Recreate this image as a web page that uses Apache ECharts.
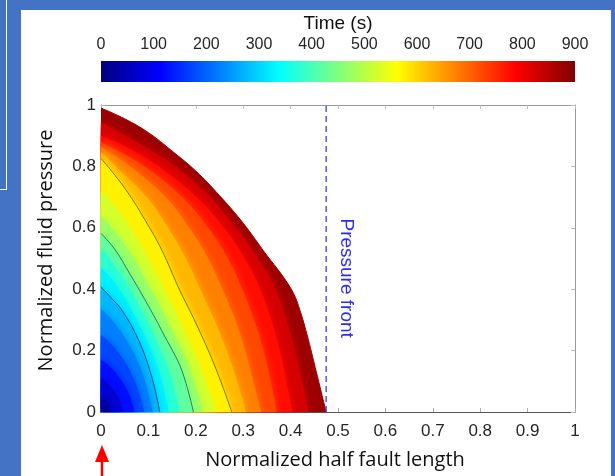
<!DOCTYPE html>
<html>
<head>
<meta charset="utf-8">
<script src="https://cdn.jsdelivr.net/npm/echarts/dist/echarts.min.js"></script>
<style>
  html, body { margin: 0; padding: 0; background: #4472c4; }
  #wrap { position: relative; width: 615px; height: 476px; overflow: hidden; }
  .panel { position: absolute; left: 21px; top: 10px; width: 590px; height: 466px; background: #fff; }
  .edge-v { position: absolute; left: 6px; top: 0; width: 1px; height: 189px; background: #fff; }
  .edge-h { position: absolute; left: 0; top: 189px; width: 7px; height: 1px; background: #fff; }
  #chart { position: absolute; left: 0; top: 0; width: 615px; height: 476px; }
</style>
</head>
<body>
<div id="wrap">
  <div class="panel"></div>
  <div class="edge-v"></div>
  <div class="edge-h"></div>
  <div id="chart"></div>
</div>
<script>
// Pressure profiles p(x) along the half fault, one per time step (s).
// Each profile: [normalized half fault length, normalized fluid pressure].
const t050 = [[0,0.05],[0.005,0.0435],[0.01,0.0345],[0.014,0.025],[0.017,0.015],[0.02,0]];
const t100 = [[0,0.11],[0.011,0.096],[0.0225,0.076],[0.0315,0.055],[0.038,0.033],[0.045,0]];
const t150 = [[0,0.17],[0.0175,0.148],[0.035,0.117],[0.049,0.085],[0.0595,0.051],[0.07,0]];
const t200 = [[0,0.25],[0.0225,0.2175],[0.045,0.1725],[0.063,0.125],[0.0765,0.075],[0.09,0]];
const t250 = [[0,0.335],[0.027,0.291],[0.054,0.231],[0.0756,0.1675],[0.0918,0.1005],[0.108,0]];
const t300 = [[0,0.408],[0.02,0.374],[0.044,0.332],[0.079,0.235],[0.107,0.115],[0.124,0]];
const t350 = [[0,0.47],[0.0355,0.404],[0.071,0.31],[0.0994,0.221],[0.1207,0.134],[0.142,0]];
const t400 = [[0,0.53],[0.041,0.448],[0.0825,0.337],[0.1155,0.233],[0.14,0.143],[0.165,0]];
const t450 = [[0,0.582],[0.03,0.528],[0.06,0.452],[0.093,0.365],[0.135,0.245],[0.17,0.137],[0.195,0]];
const t500 = [[0,0.64],[0.054,0.534],[0.1075,0.39],[0.1505,0.262],[0.183,0.154],[0.215,0]];
const t550 = [[0,0.72],[0.06,0.598],[0.12,0.432],[0.168,0.281],[0.204,0.158],[0.24,0]];
const t600 = [[0,0.826],[0.03,0.77],[0.06,0.707],[0.093,0.625],[0.128,0.528],[0.165,0.40],[0.2,0.29],[0.24,0.15],[0.276,0]];
const t650 = [[0,0.845],[0.03,0.8],[0.095,0.7],[0.14,0.6],[0.178,0.5],[0.208,0.4],[0.238,0.3],[0.264,0.2],[0.286,0.1],[0.305,0]];
const t700 = [[0,0.862],[0.06,0.8],[0.135,0.7],[0.185,0.6],[0.225,0.5],[0.255,0.4],[0.282,0.3],[0.303,0.2],[0.32,0.1],[0.337,0]];
const t750 = [[0,0.878],[0.09,0.8],[0.17,0.7],[0.225,0.6],[0.267,0.5],[0.297,0.4],[0.322,0.3],[0.342,0.2],[0.357,0.1],[0.37,0]];
const t800 = [[0,0.898],[0.05,0.865],[0.12,0.8],[0.2,0.7],[0.258,0.6],[0.302,0.5],[0.335,0.4],[0.358,0.3],[0.376,0.2],[0.39,0.1],[0.403,0]];
const t850 = [[0,0.942],[0.05,0.9],[0.105,0.85],[0.155,0.8],[0.228,0.7],[0.283,0.6],[0.33,0.5],[0.367,0.4],[0.39,0.3],[0.408,0.2],[0.423,0.1],[0.437,0]];
const t900 = [[0,0.99],[0.05,0.955],[0.1,0.91],[0.15,0.85],[0.2,0.785],[0.25,0.705],[0.3,0.615],[0.35,0.51],[0.38,0.45],[0.406,0.387],[0.42,0.33],[0.434,0.256],[0.455,0.126],[0.475,0]];

const times = [50, 100, 150, 200, 250, 300, 350, 400, 450, 500, 550, 600, 650, 700, 750, 800, 850, 900];
const profiles = [t050, t100, t150, t200, t250, t300, t350, t400, t450, t500, t550, t600, t650, t700, t750, t800, t850, t900];

// Profiles traced in black
const outlinedTimes = [300, 450, 600];

// Position of the pressure front
const frontX = 0.475;

// Axis ranges and tick spacing
const xRange = { min: 0, max: 1, interval: 0.1 };
const yRange = { min: 0, max: 1, interval: 0.2 };
const timeRange = { min: 0, max: 900, interval: 100 };

// MATLAB "jet" colour map
function jet(v) {
  const c = x => Math.max(0, Math.min(1, x));
  const r = c(1.5 - Math.abs(4 * v - 3));
  const g = c(1.5 - Math.abs(4 * v - 2));
  const b = c(1.5 - Math.abs(4 * v - 1));
  return 'rgb(' + Math.round(r * 255) + ',' + Math.round(g * 255) + ',' + Math.round(b * 255) + ')';
}

const tickFont = '"Liberation Sans", Arial, Helvetica, sans-serif';
const titleFont = '"Open Sans", "Liberation Sans", sans-serif';
const textColor = '#262626';

const chart = echarts.init(document.getElementById('chart'), null, { renderer: 'canvas' });

const series = [];

// Filled profiles: latest (largest) first, earlier ones painted over it.
// Each visible band takes the colour of the middle of its time step; a soft
// shadow of the same colour blends it into the next band outward.
for (let i = times.length - 1; i >= 0; i--) {
  const prev = i > 0 ? times[i - 1] : timeRange.min;
  const tMid = (times[i] + prev) / 2;
  const col = jet((tMid - timeRange.min) / (timeRange.max - timeRange.min));
  const outermost = i === times.length - 1;
  series.push({
    type: 'line',
    xAxisIndex: 0, yAxisIndex: 0,
    data: profiles[i],
    showSymbol: false,
    smooth: 0.4,
    clip: true,
    lineStyle: { color: col, width: 1 },
    areaStyle: {
      color: col, opacity: 1,
      shadowColor: outermost ? 'transparent' : col,
      shadowBlur: outermost ? 0 : 9
    },
    silent: true,
    z: 2
  });
}

// Black outlines of selected profiles
outlinedTimes.forEach(t => {
  series.push({
    type: 'line',
    xAxisIndex: 0, yAxisIndex: 0,
    data: profiles[times.indexOf(t)],
    showSymbol: false,
    smooth: 0.4,
    lineStyle: { color: '#222', width: 0.8, opacity: 0.75 },
    silent: true,
    z: 3
  });
});

// Pressure front
series.push({
  type: 'line',
  xAxisIndex: 0, yAxisIndex: 0,
  data: [[frontX, yRange.min], [frontX, yRange.max]],
  showSymbol: false,
  lineStyle: { color: '#3a3af5', width: 1.3, type: [6, 4] },
  silent: true,
  z: 4
});

// Colour bar
const jetStops = [0, 0.125, 0.375, 0.625, 0.875, 1].map(v => ({ offset: v, color: jet(v) }));
series.push({
  type: 'bar',
  xAxisIndex: 2, yAxisIndex: 2,
  data: [timeRange.max],
  barWidth: '100%',
  itemStyle: { color: new echarts.graphic.LinearGradient(0, 0, 1, 0, jetStops) },
  silent: true
});

const option = {
  animation: false,
  backgroundColor: 'transparent',
  grid: [
    { left: 101, top: 105, width: 474, height: 307, containLabel: false, outerBoundsMode: 'none' },
    { left: 101, top: 61, width: 474, height: 21, containLabel: false, outerBoundsMode: 'none' }
  ],
  xAxis: [
    {
      gridIndex: 0, type: 'value', position: 'bottom',
      min: xRange.min, max: xRange.max, interval: xRange.interval,
      name: 'Normalized half fault length',
      nameLocation: 'middle', nameGap: 38,
      nameTextStyle: { fontFamily: titleFont, fontSize: 20, color: '#111', padding: [0, 6, 0, 0] },
      axisLine: { show: true, lineStyle: { color: '#555', width: 1 } },
      axisTick: { show: true, inside: true, length: 4, lineStyle: { color: '#aaa' } },
      axisLabel: { fontFamily: tickFont, fontSize: 17, color: textColor, margin: 11, showMinLabel: true, showMaxLabel: true },
      splitLine: { show: false }
    },
    {
      gridIndex: 0, type: 'value', position: 'top',
      min: xRange.min, max: xRange.max, interval: xRange.interval,
      axisLine: { show: true, onZero: false, lineStyle: { color: '#999', width: 1 } },
      axisTick: { show: true, inside: true, length: 4, lineStyle: { color: '#bbb' } },
      axisLabel: { show: false },
      splitLine: { show: false }
    },
    {
      gridIndex: 1, type: 'value', position: 'top',
      min: timeRange.min, max: timeRange.max, interval: timeRange.interval,
      name: 'Time (s)',
      nameLocation: 'middle', nameGap: 28,
      nameTextStyle: { fontFamily: tickFont, fontSize: 19, color: '#111' },
      axisLine: { show: false },
      axisTick: { show: false },
      axisLabel: { fontFamily: tickFont, fontSize: 16, color: textColor, margin: 8, showMinLabel: true, showMaxLabel: true },
      splitLine: { show: false }
    }
  ],
  yAxis: [
    {
      gridIndex: 0, type: 'value', position: 'left',
      min: yRange.min, max: yRange.max, interval: yRange.interval,
      name: 'Normalized fluid pressure',
      nameLocation: 'middle', nameGap: 45,
      nameTextStyle: { fontFamily: titleFont, fontSize: 20, color: '#111', padding: [0, 0, 0, 16] },
      axisLine: { show: true, lineStyle: { color: '#555', width: 1 } },
      axisTick: { show: true, inside: true, length: 4, lineStyle: { color: '#aaa' } },
      axisLabel: { fontFamily: tickFont, fontSize: 17, color: textColor, margin: 5, showMinLabel: true, showMaxLabel: true },
      splitLine: { show: false }
    },
    {
      gridIndex: 0, type: 'value', position: 'right',
      min: yRange.min, max: yRange.max, interval: yRange.interval,
      axisLine: { show: true, onZero: false, lineStyle: { color: '#999', width: 1 } },
      axisTick: { show: true, inside: true, length: 4, lineStyle: { color: '#bbb' } },
      axisLabel: { show: false },
      splitLine: { show: false }
    },
    {
      gridIndex: 1, type: 'category', data: ['time'], show: false
    }
  ],
  series: series
};

chart.setOption(option);

// Annotations: front label and the red arrow at the fault centre
const frontPx = chart.convertToPixel({ xAxisIndex: 0, yAxisIndex: 0 }, [frontX, 0.436]);
const originPx = chart.convertToPixel({ xAxisIndex: 0, yAxisIndex: 0 }, [xRange.min, yRange.min]);
const ax = originPx[0] + 1;
chart.setOption({
  graphic: [
    {
      type: 'text',
      x: frontPx[0] + 20, y: frontPx[1],
      rotation: -Math.PI / 2,
      style: {
        text: 'Pressure front',
        fill: '#2b2bf2',
        font: '19px ' + tickFont,
        align: 'center',
        verticalAlign: 'middle'
      },
      z: 100
    },
    {
      type: 'polygon',
      shape: { points: [[ax, 445], [ax - 7, 462], [ax + 7, 462]] },
      style: { fill: '#ff0000' },
      z: 100
    },
    {
      type: 'rect',
      shape: { x: ax - 1.25, y: 460, width: 2.5, height: 16 },
      style: { fill: '#ff0000' },
      z: 100
    }
  ]
});
</script>
</body>
</html>
